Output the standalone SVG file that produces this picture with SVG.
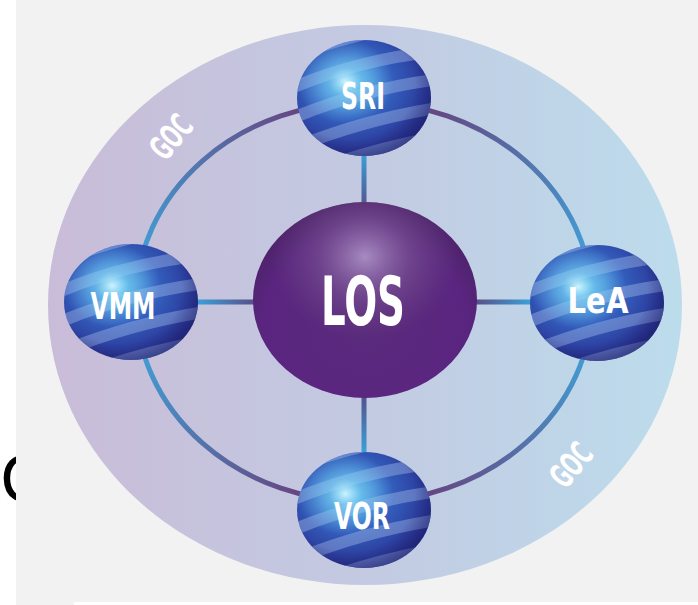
<svg xmlns="http://www.w3.org/2000/svg" xmlns:xlink="http://www.w3.org/1999/xlink" width="698" height="605" viewBox="0 0 698 605">
<style>
.lbl{font-family:"Liberation Sans Narrow","DejaVu Sans Condensed","Liberation Sans",sans-serif;font-weight:bold;fill:#ffffff;text-anchor:middle}
.ring{fill:none;stroke-width:5;stroke-linecap:round}
.spoke{stroke-width:5}
</style>
<defs>
<linearGradient id="outerG" x1="0" y1="0" x2="1" y2="0">
<stop offset="0" stop-color="#c9bcd8"/>
<stop offset="0.5" stop-color="#c3cae2"/>
<stop offset="1" stop-color="#bcdcec"/>
</linearGradient>
<linearGradient id="arcTL" gradientUnits="userSpaceOnUse" x1="136" y1="302" x2="364" y2="102">
<stop offset="0" stop-color="#3aace2"/><stop offset="0.5" stop-color="#5670a8"/><stop offset="1" stop-color="#6e2f6c"/>
</linearGradient>
<linearGradient id="arcTR" gradientUnits="userSpaceOnUse" x1="364" y1="102" x2="592" y2="302">
<stop offset="0" stop-color="#6e2f6c"/><stop offset="0.5" stop-color="#5670a8"/><stop offset="1" stop-color="#3aace2"/>
</linearGradient>
<linearGradient id="arcBR" gradientUnits="userSpaceOnUse" x1="592" y1="302" x2="364" y2="502">
<stop offset="0" stop-color="#3aace2"/><stop offset="0.5" stop-color="#5670a8"/><stop offset="1" stop-color="#6e2f6c"/>
</linearGradient>
<linearGradient id="arcBL" gradientUnits="userSpaceOnUse" x1="364" y1="502" x2="136" y2="302">
<stop offset="0" stop-color="#6e2f6c"/><stop offset="0.5" stop-color="#5670a8"/><stop offset="1" stop-color="#3aace2"/>
</linearGradient>
<linearGradient id="spV1" gradientUnits="userSpaceOnUse" x1="0" y1="150" x2="0" y2="210">
<stop offset="0" stop-color="#3aa4dc"/><stop offset="1" stop-color="#55508a"/>
</linearGradient>
<linearGradient id="spV2" gradientUnits="userSpaceOnUse" x1="0" y1="455" x2="0" y2="395">
<stop offset="0" stop-color="#3aa4dc"/><stop offset="1" stop-color="#55508a"/>
</linearGradient>
<linearGradient id="spH1" gradientUnits="userSpaceOnUse" x1="195" y1="0" x2="258" y2="0">
<stop offset="0" stop-color="#3aa4dc"/><stop offset="1" stop-color="#5a4a84"/>
</linearGradient>
<linearGradient id="spH2" gradientUnits="userSpaceOnUse" x1="533" y1="0" x2="472" y2="0">
<stop offset="0" stop-color="#3aa4dc"/><stop offset="1" stop-color="#5a4a84"/>
</linearGradient>
<radialGradient id="sphBase" cx="0.4" cy="0.38" r="0.68">
<stop offset="0" stop-color="#4aaae6"/>
<stop offset="0.4" stop-color="#3464c2"/>
<stop offset="0.8" stop-color="#2c3c9c"/>
<stop offset="1" stop-color="#22287c"/>
</radialGradient>
<radialGradient id="sphGlow" cx="0.36" cy="0.36" r="0.36">
<stop offset="0" stop-color="#d4f8ff" stop-opacity="0.95"/>
<stop offset="0.35" stop-color="#80d8f6" stop-opacity="0.55"/>
<stop offset="1" stop-color="#80d8f6" stop-opacity="0"/>
</radialGradient>
<radialGradient id="sphRim" cx="0.4" cy="0.38" r="0.68">
<stop offset="0.7" stop-color="#1b1d6a" stop-opacity="0"/>
<stop offset="1" stop-color="#1b1d6a" stop-opacity="0.6"/>
</radialGradient>
<clipPath id="sphClip"><ellipse cx="0" cy="0" rx="67" ry="58"/></clipPath>
<g id="sphere">
<ellipse cx="0" cy="0" rx="67" ry="58" fill="url(#sphBase)"/>
<g clip-path="url(#sphClip)">
<g transform="rotate(-15)" fill="none" stroke="#a4bdea" stroke-opacity="0.42" stroke-width="12">
<path d="M-95,-52 Q0,-72 95,-52"/>
<path d="M-95,-24 Q0,-42 95,-24"/>
<path d="M-95,4 Q0,-12 95,4"/>
<path d="M-95,32 Q0,18 95,32"/>
<path d="M-95,60 Q0,48 95,60"/>
</g>
</g>
<ellipse cx="0" cy="0" rx="67" ry="58" fill="url(#sphGlow)"/>
<ellipse cx="0" cy="0" rx="67" ry="58" fill="url(#sphRim)"/>
</g>
<radialGradient id="losBase" cx="0.5" cy="0.62" r="0.6">
<stop offset="0" stop-color="#5a2b7c"/>
<stop offset="0.75" stop-color="#5a2580"/>
<stop offset="1" stop-color="#4c2268"/>
</radialGradient>
<radialGradient id="losTop" cx="0.5" cy="0.28" r="0.42">
<stop offset="0" stop-color="#a88bc2" stop-opacity="1"/>
<stop offset="0.5" stop-color="#7a5494" stop-opacity="0.6"/>
<stop offset="1" stop-color="#6a4482" stop-opacity="0"/>
</radialGradient>
</defs>

<rect x="0" y="0" width="698" height="605" fill="#ffffff"/>
<text x="-45" y="502" font-family="Liberation Sans, sans-serif" font-size="68" fill="#000000">AC</text>
<rect x="16" y="0" width="682" height="602" fill="#f2f2f2"/>
<rect x="16" y="600" width="58" height="5" fill="#f2f2f2"/>

<ellipse id="outer" cx="365" cy="305" rx="317" ry="280" fill="url(#outerG)"/>

<g id="connectors">
<path class="ring" stroke="url(#arcTL)" d="M136,302 A228,200 0 0 1 364,102"/>
<path class="ring" stroke="url(#arcTR)" d="M364,102 A228,200 0 0 1 592,302"/>
<path class="ring" stroke="url(#arcBR)" d="M592,302 A228,200 0 0 1 364,502"/>
<path class="ring" stroke="url(#arcBL)" d="M364,502 A228,200 0 0 1 136,302"/>
<line class="spoke" stroke="url(#spV1)" x1="364" y1="150" x2="364" y2="210"/>
<line class="spoke" stroke="url(#spV2)" x1="364" y1="395" x2="364" y2="455"/>
<line class="spoke" stroke="url(#spH1)" x1="195" y1="302" x2="258" y2="302"/>
<line class="spoke" stroke="url(#spH2)" x1="472" y1="302" x2="533" y2="302"/>
</g>

<g id="LOS">
<ellipse cx="365" cy="300" rx="112" ry="98" fill="url(#losBase)"/>
<ellipse cx="365" cy="300" rx="112" ry="98" fill="url(#losTop)"/>
<text class="lbl" x="363" y="325" font-size="68" textLength="84" lengthAdjust="spacingAndGlyphs">LOS</text>
</g>
<g id="SRI">
<use xlink:href="#sphere" transform="translate(364,98)"/>
<text class="lbl" x="363" y="109" font-size="37" textLength="44" lengthAdjust="spacingAndGlyphs">SRI</text>
</g>
<g id="LeA">
<use xlink:href="#sphere" transform="translate(597,303)"/>
<text class="lbl" x="598" y="313" font-size="36" textLength="61" lengthAdjust="spacingAndGlyphs">LeA</text>
</g>
<g id="VMM">
<use xlink:href="#sphere" transform="translate(131,302)"/>
<text class="lbl" x="123" y="319" font-size="38" textLength="65" lengthAdjust="spacingAndGlyphs">VMM</text>
</g>
<g id="VOR">
<use xlink:href="#sphere" transform="translate(364,510)"/>
<text class="lbl" x="362" y="529" font-size="38" textLength="56" lengthAdjust="spacingAndGlyphs">VOR</text>
</g>

<g id="goc-labels">
<text class="lbl" font-size="34" textLength="46" lengthAdjust="spacingAndGlyphs" transform="translate(171,137) rotate(-50) translate(0,12)">GOC</text>
<text class="lbl" font-size="34" textLength="46" lengthAdjust="spacingAndGlyphs" transform="translate(571,465) rotate(-50) translate(0,12)">GOC</text>
</g>
</svg>
